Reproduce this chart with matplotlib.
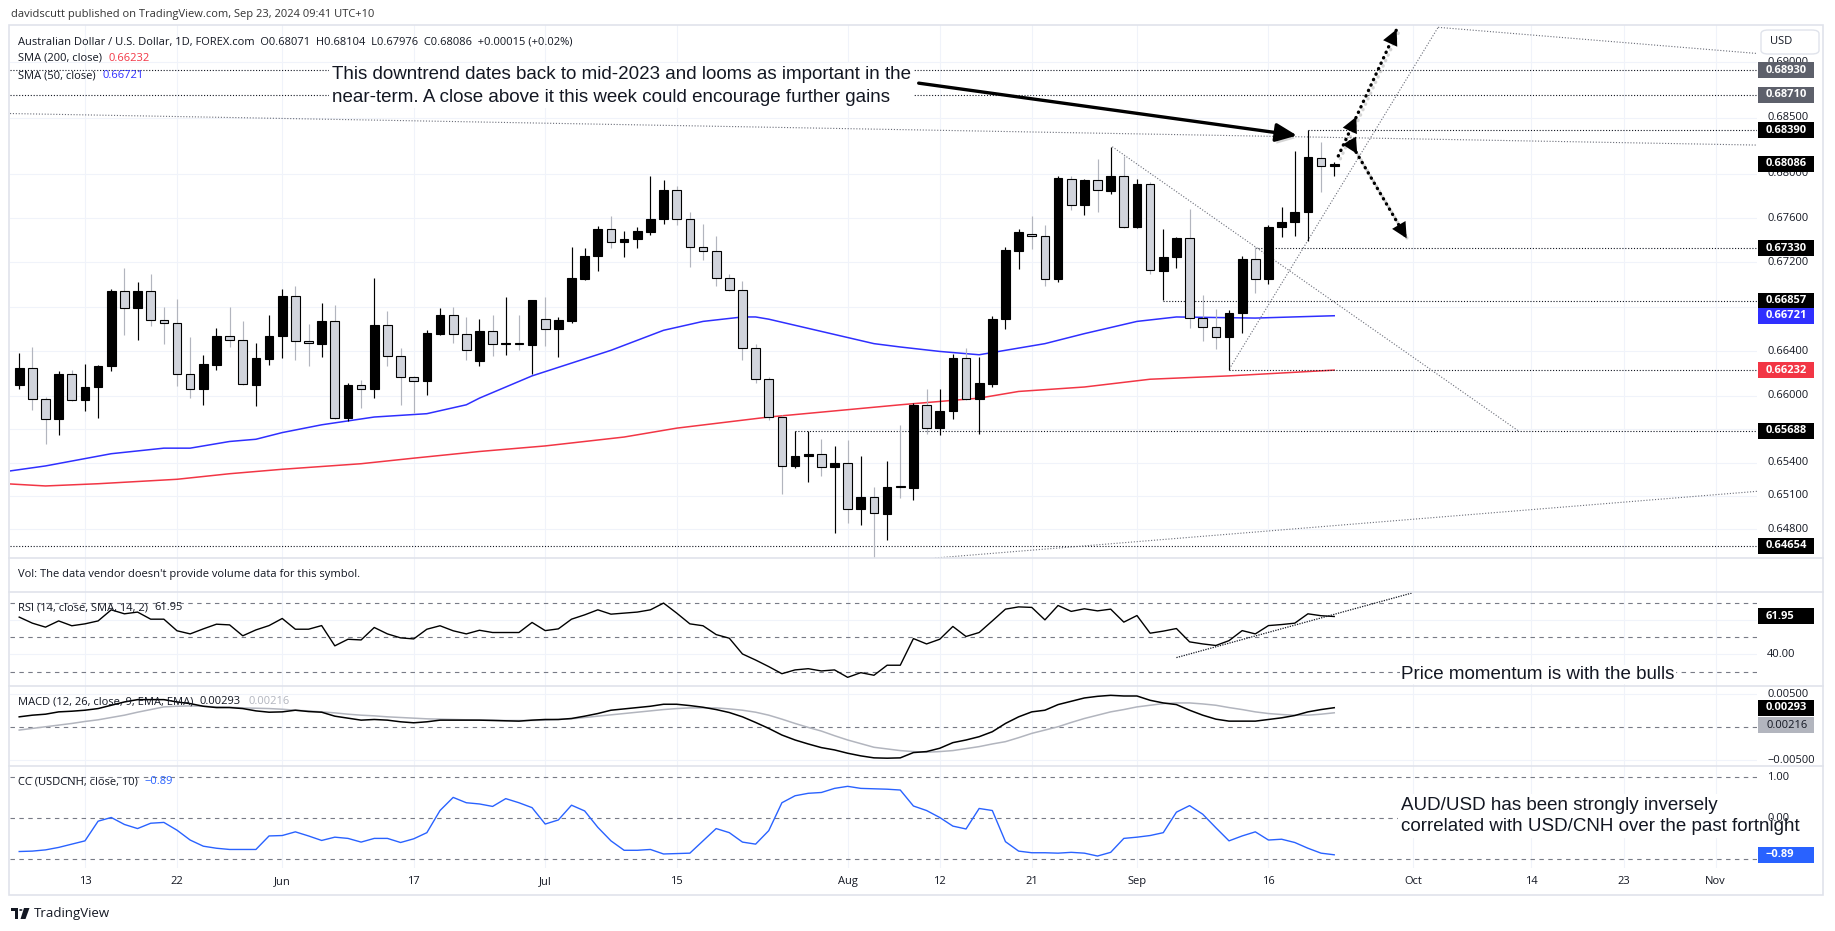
import matplotlib
matplotlib.use('Agg')
import matplotlib.pyplot as plt
import matplotlib.patheffects as pe
from matplotlib.patches import Rectangle, FancyBboxPatch, Polygon, Circle
import numpy as np
import pandas as pd

W, H = 1835, 931
UI = ['Open Sans', 'DejaVu Sans']
NOTE = ['Liberation Sans', 'DejaVu Sans']
DARK = '#131722'
GRID = '#f0f3fa'
BORDER = '#e0e3eb'
GUIDE = '#787b86'

# ---------------- data ----------------
dates = pd.bdate_range('2024-05-06', '2024-09-23')   # 101 daily bars

opens = [0.6610, 0.6625, 0.6597, 0.6579, 0.6620,
         0.6596, 0.6608, 0.6627, 0.6694, 0.6679,
         0.6694, 0.6668, 0.6666, 0.6620, 0.6606,
         0.6628, 0.6654, 0.6650, 0.6610, 0.6633,
         0.6654, 0.6690, 0.6649, 0.6647, 0.6667,
         0.6580, 0.6610, 0.6606, 0.6664, 0.6636,
         0.6617, 0.6613, 0.6656, 0.6673, 0.6656,
         0.6631, 0.6658, 0.6647, 0.6648, 0.6646,
         0.6669, 0.6660, 0.6667, 0.6705, 0.6726,
         0.6750, 0.6738, 0.6741, 0.6747, 0.6759,
         0.6785, 0.6759, 0.6734, 0.6730, 0.6706,
         0.6695, 0.6643, 0.6615, 0.6581, 0.6537,
         0.6546, 0.6548, 0.6536, 0.6540, 0.6498,
         0.6509, 0.6494, 0.6519, 0.6517, 0.6592,
         0.6571, 0.6586, 0.6634, 0.6597, 0.6611,
         0.6669, 0.6730, 0.6746, 0.6744, 0.6705,
         0.6795, 0.6772, 0.6794, 0.6784, 0.6798,
         0.6752, 0.6791, 0.6712, 0.6725, 0.6742,
         0.6670, 0.6662, 0.6653, 0.6675, 0.6723,
         0.6705, 0.6752, 0.6756, 0.6765, 0.6814,
         0.68071]
highs = [0.6639, 0.6644, 0.6599, 0.6622, 0.6623,
         0.6629, 0.6628, 0.6696, 0.6715, 0.6702,
         0.6710, 0.6680, 0.6687, 0.6653, 0.6637,
         0.6661, 0.6680, 0.6667, 0.6648, 0.6673,
         0.6696, 0.6699, 0.6665, 0.6684, 0.6682,
         0.6612, 0.6614, 0.6706, 0.6676, 0.6643,
         0.6618, 0.6659, 0.6679, 0.6680, 0.6671,
         0.6669, 0.6673, 0.6689, 0.6673, 0.6686,
         0.6689, 0.6671, 0.6734, 0.6733, 0.6753,
         0.6762, 0.6748, 0.6752, 0.6798, 0.6794,
         0.6789, 0.6765, 0.6755, 0.6744, 0.6710,
         0.6703, 0.6647, 0.6617, 0.6583, 0.6568,
         0.6568, 0.6561, 0.6555, 0.6560, 0.6546,
         0.6518, 0.6541, 0.6574, 0.6594, 0.6606,
         0.6606, 0.6638, 0.6643, 0.6635, 0.6672,
         0.6734, 0.6750, 0.6762, 0.6754, 0.6798,
         0.6798, 0.6795, 0.6813, 0.6824, 0.6816,
         0.6795, 0.6792, 0.6750, 0.6743, 0.6768,
         0.6691, 0.6678, 0.6677, 0.6726, 0.6734,
         0.6754, 0.6770, 0.6820, 0.6839, 0.6828,
         0.68104]
lows = [0.6606, 0.6587, 0.6557, 0.6565, 0.6595,
        0.6586, 0.6580, 0.6622, 0.6655, 0.6650,
        0.6663, 0.6647, 0.6609, 0.6598, 0.6592,
        0.6623, 0.6644, 0.6610, 0.6591, 0.6628,
        0.6634, 0.6632, 0.6627, 0.6635, 0.6579,
        0.6577, 0.6589, 0.6598, 0.6627, 0.6592,
        0.6585, 0.6601, 0.6655, 0.6648, 0.6632,
        0.6627, 0.6636, 0.6637, 0.6641, 0.6620,
        0.6645, 0.6635, 0.6666, 0.6704, 0.6712,
        0.6733, 0.6725, 0.6733, 0.6745, 0.6755,
        0.6754, 0.6716, 0.6722, 0.6699, 0.6694,
        0.6632, 0.6612, 0.6578, 0.6512, 0.6535,
        0.6523, 0.6528, 0.6477, 0.6486, 0.6484,
        0.6350, 0.6470, 0.6508, 0.6506, 0.6566,
        0.6565, 0.6579, 0.6596, 0.6566, 0.6608,
        0.6660, 0.6714, 0.6732, 0.6699, 0.6702,
        0.6767, 0.6763, 0.6765, 0.6782, 0.6751,
        0.6751, 0.6710, 0.6686, 0.6715, 0.6661,
        0.6649, 0.6642, 0.6623, 0.6657, 0.6693,
        0.6701, 0.6743, 0.6744, 0.6739, 0.6783,
        0.67976]
closes = [0.6625, 0.6597, 0.6579, 0.6620, 0.6596,
          0.6608, 0.6627, 0.6694, 0.6679, 0.6694,
          0.6668, 0.6666, 0.6620, 0.6606, 0.6629,
          0.6654, 0.6650, 0.6611, 0.6634, 0.6654,
          0.6690, 0.6649, 0.6648, 0.6667, 0.6580,
          0.6610, 0.6606, 0.6664, 0.6636, 0.6617,
          0.6613, 0.6657, 0.6673, 0.6656, 0.6641,
          0.6658, 0.6647, 0.6648, 0.6647, 0.6686,
          0.6660, 0.6668, 0.6706, 0.6726, 0.6750,
          0.6738, 0.6741, 0.6748, 0.6759, 0.6785,
          0.6759, 0.6734, 0.6730, 0.6706, 0.6695,
          0.6643, 0.6615, 0.6581, 0.6537, 0.6546,
          0.6548, 0.6536, 0.6540, 0.6498, 0.6509,
          0.6495, 0.6518, 0.6518, 0.6592, 0.6571,
          0.6586, 0.6634, 0.6597, 0.6612, 0.6669,
          0.6731, 0.6747, 0.6744, 0.6705, 0.6796,
          0.6772, 0.6794, 0.6785, 0.6798, 0.6752,
          0.6791, 0.6713, 0.6725, 0.6742, 0.6670,
          0.6662, 0.6653, 0.6675, 0.6723, 0.6705,
          0.6752, 0.6756, 0.6765, 0.6815, 0.6807,
          0.68086]

# moving averages at selected bars (bar position, value)
sma50_pos = [-1, 2, 7, 11, 13, 16, 18, 20, 23, 27, 31, 34, 35, 39, 45, 47, 49,
             52, 55, 56, 57, 61, 65, 67, 70, 73, 78, 81, 85, 88, 94, 100]
sma50_val = [0.6532, 0.6537, 0.6548, 0.6553, 0.6553, 0.6559, 0.6561, 0.6567,
             0.6574, 0.6581, 0.6584, 0.6592, 0.6598, 0.6618, 0.6641, 0.6650,
             0.6659, 0.6667, 0.6671, 0.6671, 0.6669, 0.6658, 0.6647, 0.6644,
             0.6640, 0.6637, 0.6647, 0.6656, 0.6667, 0.6671, 0.6670, 0.66721]
sma200_pos = [-1, 2, 6, 12, 16, 20, 26, 30, 35, 40, 46, 50, 57, 67, 73, 76,
              81, 86, 92, 100]
sma200_val = [0.6521, 0.6519, 0.6521, 0.6525, 0.6530, 0.6534, 0.6539, 0.6544,
              0.6550, 0.6555, 0.6563, 0.6571, 0.6581, 0.6592, 0.6598, 0.6604,
              0.6608, 0.6615, 0.6618, 0.66232]

rsi = [61.6, 58.1, 55.8, 59.4, 56.6, 57.7, 59.4, 65.8, 63.5, 64.5,
       60.4, 60.4, 53.7, 51.9, 54.8, 57.5, 57.1, 50.8, 54.2, 56.7,
       60.8, 54.6, 54.6, 56.7, 45.0, 48.8, 48.4, 55.6, 51.9, 49.6,
       49.0, 54.6, 56.6, 53.7, 51.9, 54.0, 52.7, 52.7, 52.7, 58.5,
       53.8, 54.8, 60.4, 62.9, 65.8, 63.3, 63.9, 64.5, 65.8, 69.7,
       63.9, 57.7, 56.6, 51.5, 49.4, 40.3, 36.8, 33.0, 28.9, 31.1,
       31.8, 30.5, 31.1, 26.8, 29.5, 28.0, 33.8, 33.8, 49.2,
       46.1, 48.8, 56.2, 50.4, 52.7, 59.4, 66.2, 67.5, 67.2, 60.0,
       68.3, 64.9, 66.4, 65.2, 66.2, 58.7, 62.5, 52.3, 53.5, 55.0,
       47.3, 46.1, 45.2, 48.0, 53.8, 51.9, 56.7, 57.3, 58.1, 63.5, 62.4, 61.95]

macd = [1.55, 1.80, 1.95, 2.30, 2.40, 2.55, 2.80, 3.30, 3.80, 4.15,
        4.15, 4.15, 3.80, 3.55, 3.15, 2.95, 2.95, 2.80, 2.45, 2.25,
        2.30, 2.55, 2.35, 2.25, 1.65, 1.35, 1.05, 1.15, 1.05, 0.80,
        0.65, 0.80, 1.05, 1.05, 1.05, 1.05, 1.00, 0.95, 0.90, 1.05,
        1.15, 1.15, 1.30, 1.65, 2.05, 2.55, 2.75, 2.95, 3.15, 3.45,
        3.45, 3.25, 3.00, 2.65, 2.20, 1.55, 0.70, -0.20, -1.20, -1.95,
        -2.55, -3.10, -3.45, -3.95, -4.35, -4.65, -4.70, -4.65, -3.85,
        -3.70, -3.20, -2.35, -1.95, -1.45, -0.70, 0.55, 1.55, 2.30, 2.55,
        3.40, 3.90, 4.40, 4.65, 4.80, 4.70, 4.70, 4.05, 3.65, 3.40,
        2.55, 1.80, 1.20, 0.90, 0.90, 0.90, 1.15, 1.40, 1.75, 2.30, 2.65, 2.93]
signal = [-0.45, -0.20, 0.05, 0.30, 0.55, 0.85, 1.10, 1.45, 1.80, 2.25,
          2.65, 3.05, 3.15, 3.20, 3.15, 3.05, 3.00, 2.90, 2.85, 2.80,
          2.70, 2.55, 2.45, 2.30, 2.15, 1.95, 1.80, 1.70, 1.55, 1.45,
          1.35, 1.25, 1.20, 1.15, 1.10, 1.05, 1.05, 1.00, 1.00, 1.00,
          1.05, 1.15, 1.25, 1.45, 1.65, 1.85, 2.05, 2.25, 2.45, 2.65,
          2.80, 2.90, 2.90, 2.90, 2.75, 2.55, 2.25, 1.80, 1.20, 0.55,
          -0.05, -0.60, -1.30, -1.95, -2.50, -3.05, -3.30, -3.55, -3.70,
          -3.80, -3.70, -3.55, -3.25, -2.95, -2.55, -2.20, -1.60, -0.95, -0.45,
          0.05, 0.70, 1.30, 1.80, 2.30, 2.65, 3.05, 3.30, 3.55, 3.65,
          3.65, 3.50, 3.30, 2.95, 2.65, 2.30, 2.05, 1.90, 1.80, 1.80, 1.95, 2.16]

cc = [-0.81, -0.80, -0.77, -0.71, -0.63, -0.55, -0.07, 0.02, -0.15, -0.25,
      -0.12, -0.10, -0.29, -0.53, -0.68, -0.73, -0.76, -0.76, -0.76, -0.43,
      -0.42, -0.33, -0.43, -0.54, -0.46, -0.49, -0.58, -0.49, -0.49, -0.59,
      -0.50, -0.35, 0.19, 0.51, 0.38, 0.35, 0.29, 0.48, 0.38, 0.26,
      -0.14, -0.04, 0.32, 0.18, -0.22, -0.55, -0.78, -0.78, -0.76, -0.87,
      -0.86, -0.85, -0.55, -0.25, -0.35, -0.58, -0.63, -0.30, 0.38, 0.55,
      0.61, 0.63, 0.73, 0.78, 0.73, 0.72, 0.71, 0.69, 0.30,
      0.19, 0.02, -0.19, -0.26, 0.24, 0.19, -0.57, -0.80, -0.84, -0.84,
      -0.85, -0.83, -0.85, -0.92, -0.83, -0.49, -0.46, -0.42, -0.35, 0.15,
      0.31, 0.10, -0.23, -0.55, -0.43, -0.33, -0.53, -0.51, -0.59, -0.73, -0.85, -0.89]

tick_dates = ['2024-05-13', '2024-05-22', '2024-06-03', '2024-06-17', '2024-07-01',
              '2024-07-15', '2024-08-01', '2024-08-12', '2024-08-21', '2024-09-02',
              '2024-09-16', '2024-10-01', '2024-10-14', '2024-10-23', '2024-11-01']
tick_labels = ['13', '22', 'Jun', '17', 'Jul', '15', 'Aug', '12', '21', 'Sep',
               '16', 'Oct', '14', '23', 'Nov']
price_ticks = [0.690, 0.685, 0.680, 0.676, 0.672, 0.668, 0.664, 0.660, 0.657,
               0.654, 0.651, 0.648]
price_tick_labels = ['0.69000', '0.68500', '0.68000', '0.67600', '0.67200', '',
                     '0.66400', '0.66000', '', '0.65400', '0.65100', '0.64800']

# ---------------- figure ----------------
fig = plt.figure(figsize=(W / 100, H / 100), dpi=100)
fig.patch.set_facecolor('white')


def rect(top, bottom, left=10, right=1757):
    return [left / W, 1 - bottom / H, (right - left) / W, (bottom - top) / H]


ax = fig.add_axes(rect(25, 558))
ax_vol = fig.add_axes(rect(558, 592))
ax_rsi = fig.add_axes(rect(592, 686))
ax_macd = fig.add_axes(rect(686, 766))
ax_cc = fig.add_axes(rect(766, 868))

XLIM = (-0.70, 132.15)
all_days = pd.bdate_range('2024-05-06', '2024-11-29')
tick_pos = all_days.get_indexer(pd.to_datetime(tick_dates))
x = np.arange(len(dates))

for a in (ax, ax_vol, ax_rsi, ax_macd, ax_cc):
    a.set_xlim(*XLIM)
    a.set_facecolor('none')
    for s in a.spines.values():
        s.set_visible(False)
    a.set_xticks(tick_pos)
    a.tick_params(length=0, labelbottom=False, labelleft=False)
    a.set_axisbelow(True)
    a.grid(True, axis='x', color=GRID, lw=0.8)
ax_vol.set_yticks([])

# ---- main pane ----
ax.set_ylim(0.64542, 0.69336)
ax.set_yticks(price_ticks)
ax.grid(True, axis='y', color=GRID, lw=0.8)

o = np.array(opens); h = np.array(highs); l = np.array(lows); c = np.array(closes)
up = c > o
lo_b = np.minimum(o, c); hi_b = np.maximum(o, c)
ax.vlines(x[up], l[up], h[up], color='#000000', lw=0.85, zorder=3)
ax.vlines(x[~up], l[~up], h[~up], color='#b2b5be', lw=0.85, zorder=3)
ax.bar(x, np.maximum(hi_b - lo_b, 0.00003), bottom=lo_b, width=0.66,
       color=np.where(up, '#000000', '#d1d4dc'), edgecolor='#000000',
       linewidth=0.8, zorder=4)

ax.plot(sma50_pos, sma50_val, color='#2f2fff', lw=1.1, zorder=2)
ax.plot(sma200_pos, sma200_val, color='#f23645', lw=1.1, zorder=2)

DOT = (0, (1, 1.6))
hcol = '#131722'
# horizontal levels (start bar, price)
for start, lvl in [(None, 0.6893), (None, 0.6871), (98, 0.6839), (94, 0.6733),
                   (87, 0.66857), (92, 0.66232), (59, 0.65688), (None, 0.64654)]:
    x0 = XLIM[0] if start is None else start
    ax.plot([x0, XLIM[1]], [lvl, lvl], color=hcol, lw=0.8, ls=DOT, zorder=2.5)

gcol = '#6a6d78'
ax.axline((-0.78, 0.68540), (132.15, 0.68256), color=gcol, lw=0.8, ls=DOT, zorder=2.5)
ax.axline((68.4, 0.64530), (131.98, 0.65140), color=gcol, lw=0.8, ls=DOT, zorder=2.5)
ax.plot([83.12, 113.97], [0.68241, 0.65688], color=gcol, lw=0.8, ls=DOT, zorder=2.5)
ax.plot([92.02, 107.9], [0.66242, 0.69315], color=gcol, lw=0.8, ls=DOT, zorder=2.5)
ax.plot([107.9, 132.15], [0.69315, 0.69080], color=gcol, lw=0.8, ls=DOT, zorder=2.5)

# big black arrow
shadow = [pe.SimplePatchShadow(offset=(1.5, -2.5), shadow_rgbFace='#888888', alpha=0.35), pe.Normal()]
ax.annotate('', xy=(97.17, 0.68342), xytext=(68.4, 0.68813),
            arrowprops=dict(arrowstyle='-|>,head_length=0.8,head_width=0.35',
                            color='black', lw=2.4, shrinkA=0, shrinkB=0,
                            mutation_scale=16, path_effects=shadow), zorder=6)

# dotted arrows
lshadow = [pe.SimpleLineShadow(offset=(1.5, -2), shadow_color='#888888', alpha=0.35), pe.Normal()]
for (sx, sy), (mx, my), (tx, ty) in [((100.31, 0.68158), (101.68, 0.68511), (104.75, 0.69297)),
                                      ((101.2, 0.68286), (101.75, 0.68176), (105.51, 0.67417))]:
    ax.plot([sx, tx], [sy, ty], color='black', lw=2.4, ls=(0, (0.1, 1.7)),
            dash_capstyle='round', zorder=6, path_effects=lshadow)
    for hx, hy in [(mx, my), (tx, ty)]:
        ax.annotate('', xy=(hx, hy), xytext=(sx, sy),
                    arrowprops=dict(arrowstyle='-|>,head_length=0.8,head_width=0.4',
                                    color='black', lw=0.0, shrinkA=0, shrinkB=0,
                                    mutation_scale=14), zorder=6)

ax.text(23.8, 0.68790,
        'This downtrend dates back to mid-2023 and looms as important in the\n'
        'near-term. A close above it this week could encourage further gains',
        fontsize=13.5, family=NOTE, color='#131722', va='center', ha='left',
        linespacing=1.45, zorder=7,
        bbox=dict(facecolor='white', edgecolor='none', pad=2))

# ---- RSI ----
ax_rsi.set_ylim(21.8, 76.1)
ax_rsi.set_yticks([40, 60])
ax_rsi.grid(True, axis='y', color=GRID, lw=0.8)
DASH = (0, (4, 4))
for lv in (70, 50, 30):
    ax_rsi.axhline(lv, color=GUIDE, lw=0.8, ls=DASH, zorder=1)
ax_rsi.plot(x, rsi, color='#000000', lw=1.0, zorder=3)
ax_rsi.plot([88.0, 105.9], [38.2, 75.5], color='#131722', lw=0.9, ls=(0, (1, 1)), zorder=3)
ax_rsi.text(105.1, 28.55, 'Price momentum is with the bulls', fontsize=13.5, family=NOTE,
            color='#131722', va='center', ha='left', zorder=7, clip_on=False,
            bbox=dict(facecolor='white', edgecolor='none', pad=1))

# ---- MACD ----
ax_macd.set_ylim(-0.00588, 0.00621)
ax_macd.set_yticks([-0.005, 0.005])
ax_macd.grid(True, axis='y', color=GRID, lw=0.8)
ax_macd.axhline(0, color=GUIDE, lw=0.8, ls=DASH, zorder=1)
ax_macd.plot(x, np.array(signal) / 1000, color='#b2b5be', lw=1.1, zorder=2)
ax_macd.plot(x, np.array(macd) / 1000, color='#000000', lw=1.1, zorder=3)

# ---- CC ----
ax_cc.set_ylim(-1.212, 1.276)
ax_cc.set_yticks([])
for lv in (1, 0, -1):
    ax_cc.axhline(lv, color=GUIDE, lw=0.8, ls=DASH, zorder=1)
ax_cc.plot(x, cc, color='#2962ff', lw=1.0, zorder=3)
ax_cc.text(105.1, 0.06,
           'AUD/USD has been strongly inversely\ncorrelated with USD/CNH over the past fortnight',
           fontsize=13.5, family=NOTE, color='#131722', va='center', ha='left',
           linespacing=1.35, zorder=7, clip_on=False,
           bbox=dict(facecolor='white', edgecolor='none', pad=2))

ax_cc.tick_params(labelbottom=True, pad=5.5, labelsize=8, labelcolor=DARK)
ax_cc.set_xticklabels(tick_labels)
for t in ax_cc.get_xticklabels():
    t.set_family(UI)

# ---------------- frame & separators ----------------
fig.add_artist(Rectangle((9 / W, 1 - 895 / H), (1823 - 9) / W, (895 - 25) / H,
                         transform=fig.transFigure, fill=False, edgecolor=BORDER,
                         lw=1.2, zorder=1))
for yy in (558, 592, 686, 766):
    fig.add_artist(plt.Line2D([9 / W, 1823 / W], [1 - yy / H, 1 - yy / H],
                              transform=fig.transFigure, color=BORDER, lw=1.2, zorder=1))

# ---------------- right axis labels & badges ----------------
def ypx(axx, v):
    return axx.transData.transform((0, v))[1]


def axis_label(axx, v, s):
    if s:
        fig.text(1767 / W, ypx(axx, v) / H, s, fontsize=8, color=DARK, family=UI,
                 va='center', ha='left', zorder=3)


def badge(yp, s, bg, fg='white', bold=True):
    fig.add_artist(Rectangle((1758 / W, (yp - 8) / H), 56 / W, 16 / H,
                             transform=fig.transFigure, facecolor=bg,
                             edgecolor='none', zorder=4))
    fig.text(1766 / W, yp / H, s, fontsize=8, color=fg, family=UI,
             fontweight='bold' if bold else 'normal', va='center', ha='left', zorder=5)


for v, s in zip(price_ticks, price_tick_labels):
    axis_label(ax, v, s)
axis_label(ax_rsi, 40, '40.00')
axis_label(ax_macd, 0.005, '0.00500')
axis_label(ax_macd, -0.005, '\u22120.00500')
axis_label(ax_cc, 1, '1.00')
axis_label(ax_cc, 0, '0.00')

for v, s, bg in [(0.68930, '0.68930', '#5d606b'), (0.68710, '0.68710', '#5d606b'),
                 (0.68390, '0.68390', '#000000'), (0.68086, '0.68086', '#000000'),
                 (0.67330, '0.67330', '#000000'), (0.66857, '0.66857', '#000000'),
                 (0.66721, '0.66721', '#2f2fff'), (0.66232, '0.66232', '#f23645'),
                 (0.65688, '0.65688', '#000000'), (0.64654, '0.64654', '#000000')]:
    badge(ypx(ax, v), s, bg)
badge(ypx(ax_rsi, rsi[-1]), '61.95', '#000000')
badge(ypx(ax_macd, macd[-1] / 1000), '0.00293', '#000000')
badge(ypx(ax_macd, macd[-1] / 1000) - 17.5, '0.00216', '#b2b5be', fg=DARK, bold=False)
badge(ypx(ax_cc, cc[-1]), '\u22120.89', '#2962ff')

# USD box
fig.add_artist(FancyBboxPatch((1761 / W, 1 - 54 / H), 58 / W, 24 / H,
                              boxstyle='round,pad=0,rounding_size=0.004',
                              transform=fig.transFigure, facecolor='white',
                              edgecolor=BORDER, lw=1.0, zorder=3))
fig.text(1770 / W, 1 - 42 / H, 'USD', fontsize=8, color=DARK, family=UI,
         va='center', ha='left', zorder=5)

# ---------------- header / legends ----------------
renderer = fig.canvas.get_renderer()


def seq_text(x_px, y_px, parts, size=8, gap=7):
    xx = x_px
    for s, col in parts:
        t = fig.text(xx / W, 1 - y_px / H, s, color=col, fontsize=size, family=UI,
                     va='center', ha='left', zorder=5)
        bb = t.get_window_extent(renderer=renderer)
        xx = bb.x1 + gap


seq_text(10.6, 15, [('davidscutt published on TradingView.com, Sep 23, 2024 09:41 UTC+10', '#333333')])
seq_text(17.6, 42.5, [('Australian Dollar / U.S. Dollar, 1D, FOREX.com  O0.68071  H0.68104  '
                       'L0.67976  C0.68086  +0.00015 (+0.02%)', DARK)])
seq_text(17.6, 58.5, [('SMA (200, close)', DARK), ('0.66232', '#f23645')])
seq_text(17.6, 75.5, [('SMA (50, close)', DARK), ('0.66721', '#2f2fff')])
seq_text(17.6, 574, [("Vol: The data vendor doesn't provide volume data for this symbol.", DARK)])
seq_text(17.6, 607.7, [('RSI (14, close, SMA, 14, 2)', DARK), ('61.95', DARK)])
seq_text(17.6, 701.7, [('MACD (12, 26, close, 9, EMA, EMA)', DARK), ('0.00293', DARK),
                       ('0.00216', '#b2b5be')])
seq_text(17.6, 781.7, [('CC (USDCNH, close, 10)', DARK), ('\u22120.89', '#2962ff')])

# TradingView logo
def P(xp, yp):
    return (xp / W, 1 - yp / H)

fig.add_artist(Rectangle(P(11, 911), 7 / W, 3.2 / H, transform=fig.transFigure,
                         facecolor=DARK, edgecolor='none', zorder=5))
fig.add_artist(Rectangle(P(14.5, 919), 3.5 / W, 11 / H, transform=fig.transFigure,
                         facecolor=DARK, edgecolor='none', zorder=5))
fig.add_artist(Circle(P(20.8, 910), 1.7 / W, transform=fig.transFigure,
                      facecolor=DARK, edgecolor='none', zorder=5))
fig.add_artist(Polygon([P(24, 908), P(29.5, 908), P(25.5, 919), P(20.5, 919)],
                       closed=True, transform=fig.transFigure, facecolor=DARK,
                       edgecolor='none', zorder=5))
fig.text(33.5 / W, 1 - 913.5 / H, 'TradingView', fontsize=9.5, color=DARK, family=UI,
         va='center', ha='left', zorder=5)

fig.savefig('out.png', dpi=100, facecolor='white')
